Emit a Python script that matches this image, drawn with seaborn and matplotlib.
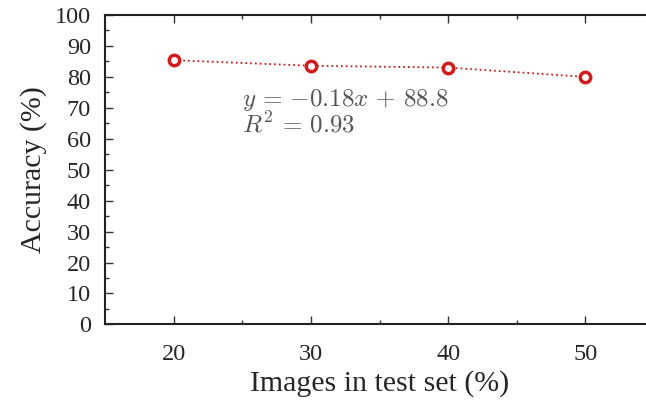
import seaborn as sns
import matplotlib.pyplot as plt
import pandas as pd

# Accuracy vs share of images held out for testing
test_share = [20, 30, 40, 50]
accuracy = [85.4, 83.6, 83.0, 80.0]
x_ticks = [20, 30, 40, 50]
y_ticks = list(range(0, 101, 10))

df = pd.DataFrame({"test": test_share, "acc": accuracy})

sns.set_style("ticks")
plt.rcParams["font.family"] = ["Liberation Serif", "DejaVu Serif"]
plt.rcParams["mathtext.fontset"] = "cm"

fig = plt.figure(figsize=(6.46, 4.0), dpi=100)
ax = fig.add_axes([0.1625, 0.189, 0.85, 0.7735])

sns.lineplot(
    data=df, x="test", y="acc", ax=ax,
    color="#d01c1c", linestyle=":", linewidth=1.3,
    marker="o", markersize=7.5, markerfacecolor="white",
    markeredgecolor="#d01c1c", markeredgewidth=2.5,
)

ax.text(25, 72.5, r"$y\,=\,{-}0.18x\,+\,88.8$", fontsize=18, color="#555555", va="center")
ax.text(25, 64.5, r"$R^2\,=\,0.93$", fontsize=18, color="#555555", va="center")

ax.set_xlim(15, 55)
ax.set_ylim(0, 100)
ax.set_xticks(x_ticks)
ax.set_yticks(y_ticks)
ax.set_xticks([25, 35, 45], minor=True)
ax.set_yticks(range(5, 100, 10), minor=True)
ax.tick_params(which="both", direction="in", top=True, right=True,
               labelsize=17.5, width=1.0, color="#333333")
ax.tick_params(which="major", length=6)
ax.tick_params(which="minor", length=3)
ax.tick_params(axis="x", which="both", pad=14)
ax.tick_params(axis="y", which="both", pad=10)
for s in ax.spines.values():
    s.set_linewidth(1.5)
    s.set_color("#222222")

ax.set_xlabel("Images in test set (%)", fontsize=21.5, labelpad=4)
ax.set_ylabel("Accuracy (%)", fontsize=21.5, labelpad=6)

fig.savefig("out.png", dpi=100)
